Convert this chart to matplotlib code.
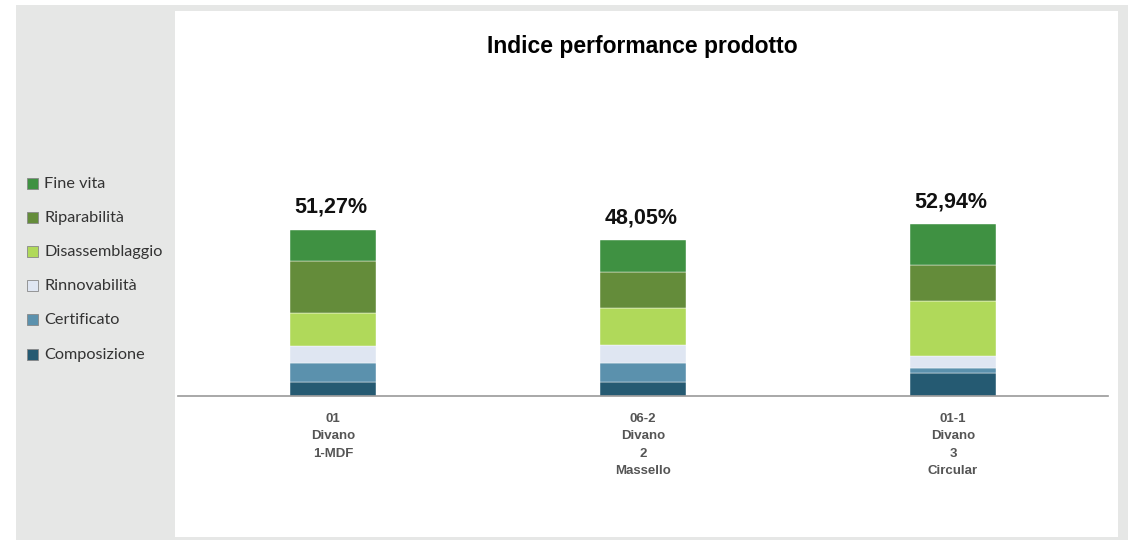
import matplotlib
matplotlib.use("Agg")
import matplotlib.pyplot as plt
from matplotlib.patches import Rectangle
import numpy as np

categories = ["01\nDivano\n1-MDF", "06-2\nDivano\n2\nMassello", "01-1\nDivano\n3\nCircular"]
series_names = ["Composizione", "Certificato", "Rinnovabilità", "Disassemblaggio", "Riparabilità", "Fine vita"]
composizione = [4.31, 4.31, 7.09]
certificato = [5.85, 5.85, 1.44]
rinnovabilita = [5.36, 5.50, 3.90]
disassemblaggio = [10.17, 11.30, 16.80]
riparabilita = [15.80, 11.25, 11.00]
fine_vita = [9.78, 9.84, 12.71]
totals = [51.27, 48.05, 52.94]
total_labels = ["51,27%", "48,05%", "52,94%"]
colors = ["#255a72", "#5b91ad", "#dfe6f2", "#b0d95a", "#648c3a", "#3f9142"]

series = [composizione, certificato, rinnovabilita, disassemblaggio, riparabilita, fine_vita]

W, H = 1128, 540
fig = plt.figure(figsize=(W / 100, H / 100), dpi=100)
fig.patch.set_facecolor("white")

def fr(x0, y0, x1, y1, **kw):
    return Rectangle((x0 / W, 1 - y1 / H), (x1 - x0) / W, (y1 - y0) / H,
                     transform=fig.transFigure, **kw)

fig.patches.append(fr(16, 5, 1128, 540, facecolor="#e6e7e6", edgecolor="none", zorder=-2))
fig.patches.append(fr(175, 11, 1118, 537, facecolor="white", edgecolor="none", zorder=-1))

ax_left, ax_right, base_y = 178, 1108, 396
scale = 3.246
top_y = base_y - 100 * scale
ax = fig.add_axes([ax_left / W, 1 - base_y / H, (ax_right - ax_left) / W, (base_y - top_y) / H])
ax.set_zorder(5)
ax.set_facecolor("none")
x = np.arange(len(categories))
bottom = np.zeros(len(categories))
for vals, col in zip(series, colors):
    ax.bar(x, vals, bottom=bottom, width=0.28, color=col, edgecolor="white", linewidth=0.3)
    bottom += np.array(vals)

for xi, t, lab in zip(x, totals, total_labels):
    ax.annotate(lab, (xi, t), xytext=(-2, 17), textcoords="offset pixels",
                ha="center", va="baseline", fontsize=15.5, fontweight="bold",
                family="Liberation Sans", color="#111111")

ax.set_xlim(-0.5, 2.5)
ax.set_ylim(0, 100)
for s in ["top", "right", "left"]:
    ax.spines[s].set_visible(False)
ax.spines["bottom"].set_color("#999999")
ax.spines["bottom"].set_linewidth(1.2)
ax.set_yticks([])
ax.set_xticks(x)
ax.set_xticklabels(categories, fontsize=9.5, fontweight="bold", color="#555555",
                   family="Liberation Sans", linespacing=1.62)
ax.tick_params(axis="x", length=0, pad=12)

fig.text(642 / W, 1 - 46 / H, "Indice performance prodotto", ha="center", va="center",
         fontsize=16.5, fontweight="bold", family="Liberation Sans", color="#000000")

leg_y = [355, 320, 286, 252, 218, 184]
for name, col, yy in zip(series_names, colors, leg_y):
    fig.patches.append(fr(27, yy - 6, 38, yy + 5, facecolor=col, edgecolor="#888888", linewidth=0.6, zorder=2))
    fig.text(44 / W, 1 - yy / H, name, ha="left", va="center", fontsize=11.7,
             family="Lato", color="#333333")

fig.savefig("out.png", dpi=100)
